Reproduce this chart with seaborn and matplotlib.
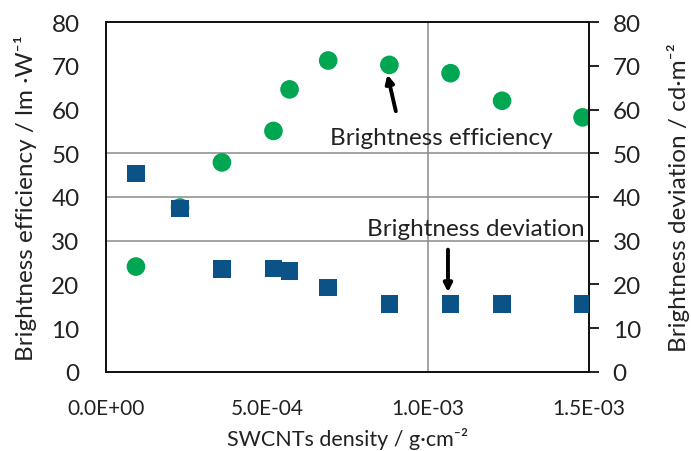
import matplotlib
matplotlib.use("Agg")
import matplotlib.pyplot as plt
import seaborn as sns
import pandas as pd

# SWCNTs density (g/cm^2) and the two measured quantities
density = [0.093e-3, 0.23e-3, 0.36e-3, 0.52e-3, 0.57e-3, 0.69e-3, 0.88e-3, 1.07e-3, 1.23e-3, 1.48e-3]
efficiency = [24.1, 37.6, 47.9, 55.1, 64.6, 71.2, 70.2, 68.3, 62.0, 58.2]
deviation = [45.4, 37.4, 23.5, 23.7, 23.1, 19.3, 15.5, 15.5, 15.5, 15.5]

x_ticks = [0.0, 5.0e-4, 1.0e-3, 1.5e-3]
x_tick_labels = ["0.0E+00", "5.0E-04", "1.0E-03", "1.5E-03"]
y_ticks = [0, 10, 20, 30, 40, 50, 60, 70, 80]
guide_y = [30, 40, 50]
guide_x = [1.0e-3]

sns.set_style("white")
plt.rcParams["font.family"] = ["Lato", "DejaVu Sans"]

df = pd.DataFrame({"density": density, "efficiency": efficiency, "deviation": deviation})

fig = plt.figure(figsize=(6.91, 4.52), dpi=100)
ax = fig.add_axes([0.1534, 0.1748, 0.699, 0.7743])
ax2 = ax.twinx()

green = "#00A651"
blue = "#0B5286"
txt = "#222222"

# guide lines
for gy in guide_y:
    ax.axhline(gy, color="#8a8a8a", lw=1.1, zorder=0)
for gx in guide_x:
    ax.axvline(gx, color="#8a8a8a", lw=1.1, zorder=0)

sns.scatterplot(data=df, x="density", y="efficiency", ax=ax, color=green,
                marker="o", s=180, edgecolor="none", zorder=3, legend=False)
sns.scatterplot(data=df, x="density", y="deviation", ax=ax2, color=blue,
                marker="s", s=160, edgecolor="none", zorder=4, legend=False)

for a in (ax, ax2):
    a.set_xlim(0, 1.5e-3)
    a.set_ylim(0, 80)
    a.set_yticks(y_ticks)
    for s in a.spines.values():
        s.set_visible(True)
        s.set_color("#111111")
        s.set_linewidth(1.3)

ax.set_xticks(x_ticks)
ax.set_xticklabels(x_tick_labels)
ax.tick_params(axis="x", length=0, pad=19, labelsize=15, labelcolor=txt)
ax.tick_params(axis="y", length=0, pad=19, labelsize=17.5, labelcolor=txt)
ax2.tick_params(axis="y", direction="out", length=7, width=1.3, color="#111111",
                pad=10, labelsize=17.5, labelcolor=txt)
ax.set_yticklabels([str(v) for v in y_ticks])
ax2.set_yticklabels([str(v) for v in y_ticks])

ax.set_xlabel("SWCNTs density / g·cm⁻²", fontsize=15.5, color=txt, labelpad=6)
ax.set_ylabel("Brightness efficiency / lm ·W⁻¹", fontsize=17.5, color=txt, labelpad=10)
ax2.set_ylabel("Brightness deviation / cd·m⁻²", fontsize=17.5, color=txt, labelpad=19)

# the deviation axis sits on top; its background stays transparent
ax2.set_zorder(ax.get_zorder() + 1)
ax.patch.set_visible(True)
ax2.patch.set_visible(False)

# callouts
ax.annotate("", xy=(0.872e-3, 68.6), xytext=(0.902e-3, 59.0),
            arrowprops=dict(arrowstyle="-|>", color="black", lw=2.8,
                            mutation_scale=12), zorder=5)
ax.text(0.697e-3, 53.7, "Brightness efficiency", fontsize=17.5, color=txt,
        va="center", ha="left", zorder=5)
ax2.annotate("", xy=(1.062e-3, 17.6), xytext=(1.062e-3, 28.6),
             arrowprops=dict(arrowstyle="-|>", color="black", lw=2.8,
                             mutation_scale=12), zorder=5)
ax2.text(0.812e-3, 32.7, "Brightness deviation", fontsize=17.5, color=txt,
         va="center", ha="left", zorder=5)

fig.savefig("out.png", dpi=100)
